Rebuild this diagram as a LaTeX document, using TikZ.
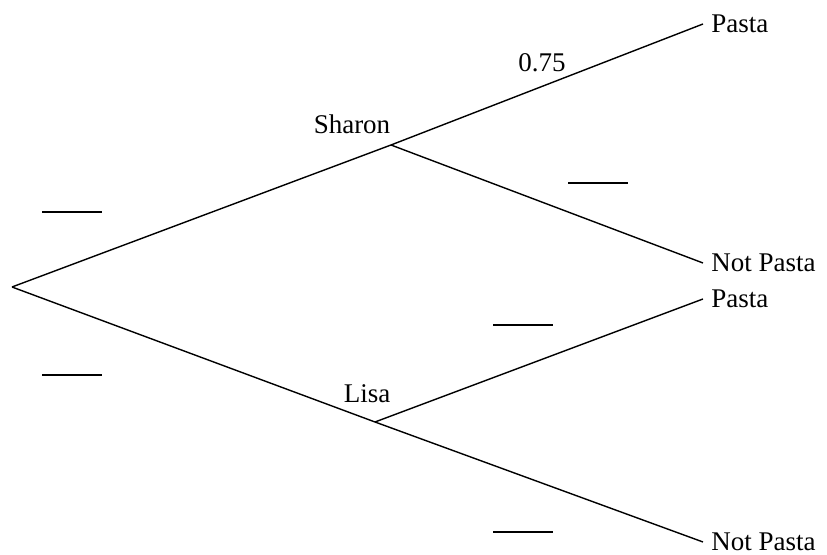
\documentclass[tikz,border=0pt]{standalone}
\usepackage{fontspec}
\setmainfont{Liberation Serif}
\usetikzlibrary{positioning}
\tikzset{
  branch/.style={line width=0.7pt,black},
  leaf/.style={anchor=west,inner xsep=4pt,inner ysep=0pt,font=\fontsize{13.5}{16}\selectfont},
  who/.style={inner sep=0pt,font=\fontsize{13.5}{16}\selectfont},
  blank/.style={inner sep=0pt}
}

\begin{document}
\begin{tikzpicture}[x=0.5pt,y=-0.5pt]
        \useasboundingbox (0,0) rectangle (827,555);
        \coordinate (root) at (12,287);
        \coordinate (sharon) at (391,145);
        \coordinate (lisa) at (375,422);
        \node[leaf] (sp) at (703,24) {Pasta};
        \node[leaf] (snp) at (703,263) {Not Pasta};
        \node[leaf] (lp) at (703,299) {Pasta};
        \node[leaf] (lnp) at (703,542) {Not Pasta};
        \node[who] (sname) at (352,124) {Sharon};
        \node[who] (lname) at (367,394) {Lisa};
        \node[who] (p75) at (542,63) {0.75};
        \draw[branch] (root) -- (sharon);
        \draw[branch] (root) -- (lisa);
        \draw[branch] (sharon) -- (sp.west);
        \draw[branch] (sharon) -- (snp.west);
        \draw[branch] (lisa) -- (lp.west);
        \draw[branch] (lisa) -- (lnp.west);
        % blanks to fill in
        \node[blank] (b1) at (72,212) {\rule{30pt}{0.6pt}};
        \node[blank] (b2) at (72,375) {\rule{30pt}{0.6pt}};
        \node[blank] (b3) at (598,183) {\rule{30pt}{0.6pt}};
        \node[blank] (b4) at (523,325) {\rule{30pt}{0.6pt}};
        \node[blank] (b5) at (523,532) {\rule{30pt}{0.6pt}};
      \end{tikzpicture}
\end{document}
